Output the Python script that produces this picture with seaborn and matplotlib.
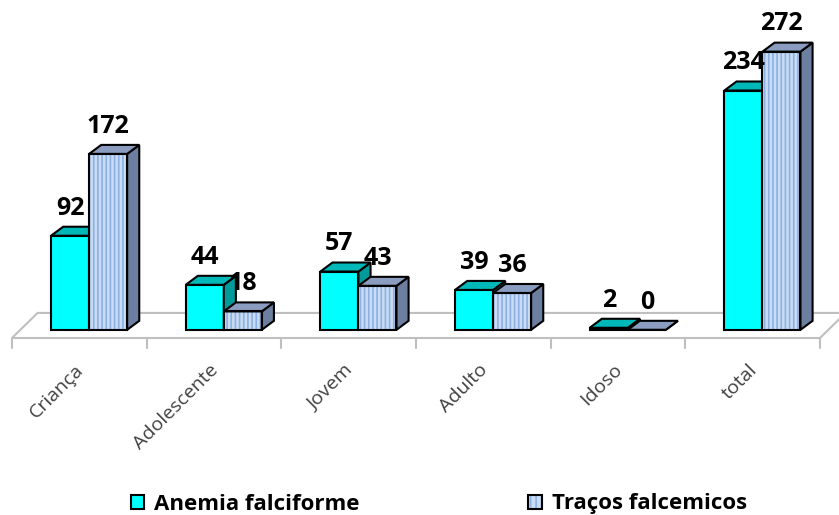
import pandas as pd
import seaborn as sns
import matplotlib.pyplot as plt
from matplotlib.patches import Polygon, Rectangle, Patch
from matplotlib.transforms import ScaledTranslation

# chart data
categorias = ["Criança", "Adolescente", "Jovem", "Adulto", "Idoso", "total"]
series = ["Anemia falciforme", "Traços falcemicos"]
anemia = [92, 44, 57, 39, 2, 234]
tracos = [172, 18, 43, 36, 0, 272]

FRONT = {"Anemia falciforme": "#00FFFF", "Traços falcemicos": "#C9DCF3"}
TOP = {"Anemia falciforme": "#00B8B8", "Traços falcemicos": "#8A9CC0"}
SIDE = {"Anemia falciforme": "#009A9A", "Traços falcemicos": "#6C7FA0"}
STRIPE = "#8DB0E2"

df = pd.DataFrame({
    "categoria": categorias * 2,
    "serie": [series[0]] * len(categorias) + [series[1]] * len(categorias),
    "valor": anemia + tracos,
})

sns.set_style("white")
plt.rcParams["font.family"] = ["Open Sans", "DejaVu Sans"]
plt.rcParams["hatch.linewidth"] = 1.2

fig = plt.figure(figsize=(8.39, 5.15), dpi=100)
ax = fig.add_axes([12 / 839, (515 - 338) / 515, 808 / 839, 315 / 515])

sns.barplot(data=df, x="categoria", y="valor", hue="serie", order=categorias,
            hue_order=series, palette=[FRONT[s] for s in series], width=0.565,
            saturation=1, edgecolor="black", linewidth=1.5, legend=False, ax=ax)

x_left = -0.5725
ax.set_xlim(x_left, x_left + 6)
ax.set_ylim(-8, 300)
for sp in ax.spines.values():
    sp.set_visible(False)
ax.set_yticks([])
ax.set_xlabel("")
ax.set_ylabel("")

# floor (drawn behind the bars)
fdx, fdy = 0.19, 24.5
floor = Polygon([(x_left, -8), (x_left + fdx, -8 + fdy), (x_left + 6 + fdx, -8 + fdy),
                 (x_left + 6, -8)], closed=True, facecolor="white",
                edgecolor="#BFBFBF", lw=1.5, zorder=0.5, clip_on=False)
ax.add_patch(floor)
for k in range(7):
    ax.plot([x_left + k, x_left + k], [-8, -18], color="#BFBFBF", lw=1.5,
            clip_on=False, zorder=0.5)

# fake 3D faces for each bar
dx, dy = 0.09, 8.8
n = len(categorias)
for i, p in enumerate(ax.patches[:2 * n]):
    s = series[i // n]
    z = 2 if s == series[0] else 3
    x0, w, h = p.get_x(), p.get_width(), p.get_height()
    p.set_zorder(z)
    top = Polygon([(x0, h), (x0 + dx, h + dy), (x0 + w + dx, h + dy), (x0 + w, h)],
                  closed=True, facecolor=TOP[s], edgecolor="black", lw=1.5, zorder=z)
    side = Polygon([(x0 + w, 0), (x0 + w + dx, dy), (x0 + w + dx, h + dy), (x0 + w, h)],
                   closed=True, facecolor=SIDE[s], edgecolor="black", lw=1.5, zorder=z)
    ax.add_patch(side)
    ax.add_patch(top)
    if s == series[1]:
        # blue vertical stripes on the front face
        p.set_hatch("||||")
        p.set_edgecolor(STRIPE)
        p.set_linewidth(0)
        ax.add_patch(Rectangle((x0, 0), w, h, fill=False, edgecolor="black",
                               lw=1.5, zorder=z))
    ax.text(x0 + w / 2, h + dy + 6, f"{int(round(h))}", ha="center", va="bottom",
            fontsize=18, fontweight="bold", color="black", zorder=5)

ax.set_xticks(range(n))
ax.set_xticklabels(categorias, rotation=45, ha="right", va="center",
                   rotation_mode="anchor", fontsize=14, color="#404040")
ax.tick_params(axis="x", length=0, pad=21)
shift = ScaledTranslation(-8 / 100, 0, fig.dpi_scale_trans)
for lab in ax.get_xticklabels():
    lab.set_transform(lab.get_transform() + shift)

h1 = Patch(facecolor=FRONT[series[0]], edgecolor="black", lw=1.5)
h2 = (Patch(facecolor=FRONT[series[1]], edgecolor=STRIPE, hatch="|||", lw=0),
      Patch(fill=False, edgecolor="black", lw=1.5))
fig.legend([h1, h2], series, loc="center", bbox_to_anchor=(0.523, 1 - 504 / 515),
           ncol=2, frameon=False, handlelength=0.6, handleheight=0.6,
           handletextpad=0.45, columnspacing=7.6, labelcolor="black",
           prop={"size": 16, "weight": "bold"})

fig.savefig("out.png", dpi=100)
